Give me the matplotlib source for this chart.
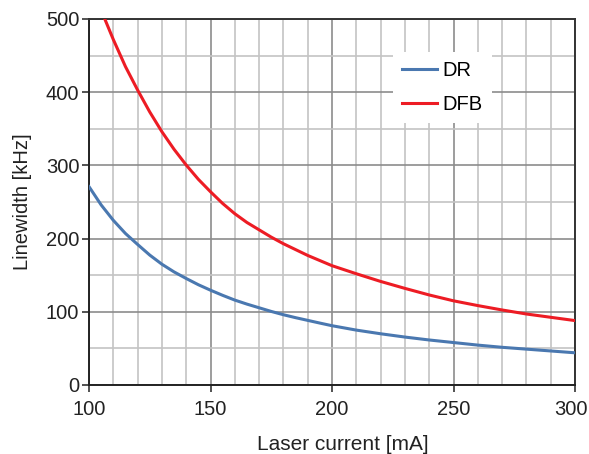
import numpy as np
import matplotlib.pyplot as plt
import matplotlib.transforms as mtransforms
from matplotlib.ticker import MultipleLocator

plt.rcParams['font.family'] = ['Liberation Sans', 'DejaVu Sans']

# Corrente laser [mA] e larghezza di riga [kHz]
current_dr = [100, 105, 110, 115, 120, 125, 130, 135, 140, 145, 150, 155,
              160, 165, 170, 175, 180, 185, 190, 195, 200,
              210, 220, 230, 240, 250, 260, 270, 280, 290, 300]
linewidth_dr = [271, 246, 225, 207, 192, 177.5, 165, 154.5, 145.5, 137, 129.5, 122.5,
                116, 110.5, 105.5, 100.5, 96, 92, 88.3, 84.6, 81,
                75, 70, 65.5, 61.5, 58, 54.5, 51.5, 49, 46.5, 44]

current_dfb = [105, 110, 115, 120, 125, 130, 135, 140, 145, 150, 155,
               160, 165, 170, 175, 180, 185, 190, 195, 200,
               210, 220, 230, 240, 250, 260, 270, 280, 290, 300]
linewidth_dfb = [512, 472, 435, 403, 373, 346, 322, 300.5, 281, 264, 248,
                 234, 222, 212, 202, 193, 185, 177, 170, 163,
                 152, 141.5, 132, 123, 115, 108.5, 102.5, 97, 92.5, 88]

labels = ['DR', 'DFB']
colors = ['#4a78b0', '#ed1c24']
x_ticks = [100, 150, 200, 250, 300]
y_ticks = [0, 100, 200, 300, 400, 500]

fig = plt.figure(figsize=(5.89, 4.54), dpi=100)
ax = fig.add_axes([89/589, 1-385/454, 486/589, 366/454])

ax.plot(current_dr, linewidth_dr, color=colors[0], lw=2.2, label=labels[0], zorder=3)
ax.plot(current_dfb, linewidth_dfb, color=colors[1], lw=2.2, label=labels[1], zorder=3)

ax.set_xlim(100, 300)
ax.set_ylim(0, 500)
ax.set_xticks(x_ticks)
ax.set_yticks(y_ticks)
ax.xaxis.set_minor_locator(MultipleLocator(10))
ax.yaxis.set_minor_locator(MultipleLocator(50))

# Griglia: principale piu scura, secondaria chiara
ax.grid(True, which='minor', color='#c4c4c4', lw=1.2, zorder=0)
ax.grid(True, which='major', color='#8c8c8c', lw=1.2, zorder=0)
ax.set_axisbelow(True)

ax.tick_params(which='major', direction='out', length=5, width=1.2,
               labelsize=14.5, color='#333333', labelcolor='#222222')
ax.tick_params(axis='x', pad=6)
ax.tick_params(axis='y', pad=2)
ax.tick_params(which='minor', length=0)

for side in ['left', 'bottom']:
    ax.spines[side].set_color('#222222')
    ax.spines[side].set_linewidth(1.4)
for side in ['top', 'right']:
    ax.spines[side].set_color('#333333')
    ax.spines[side].set_linewidth(1.4)

ax.set_xlabel('Laser current [mA]', fontsize=15, color='#222222', labelpad=11)
ax.xaxis.label.set_x(0.522)
ax.set_ylabel('Linewidth [kHz]', fontsize=14.5, color='#222222', labelpad=10)

# L'ultima etichetta (300) tocca il bordo: la sposto di poco a sinistra
last = ax.xaxis.get_major_ticks()[-1].label1
last.set_transform(last.get_transform() +
                   mtransforms.ScaledTranslation(-3/72, 0, fig.dpi_scale_trans))

leg = ax.legend(loc='upper left', bbox_to_anchor=((393-89)/486, (385-52)/366),
                borderaxespad=0, frameon=True, fancybox=False, fontsize=14.5,
                handlelength=1.75, handletextpad=0.25, labelspacing=0.75,
                borderpad=0.45)
leg.get_frame().set_facecolor('white')
leg.get_frame().set_edgecolor('none')
leg.get_frame().set_alpha(1.0)
for line in leg.get_lines():
    line.set_linewidth(2.2)

plt.savefig('out.png', dpi=100)
